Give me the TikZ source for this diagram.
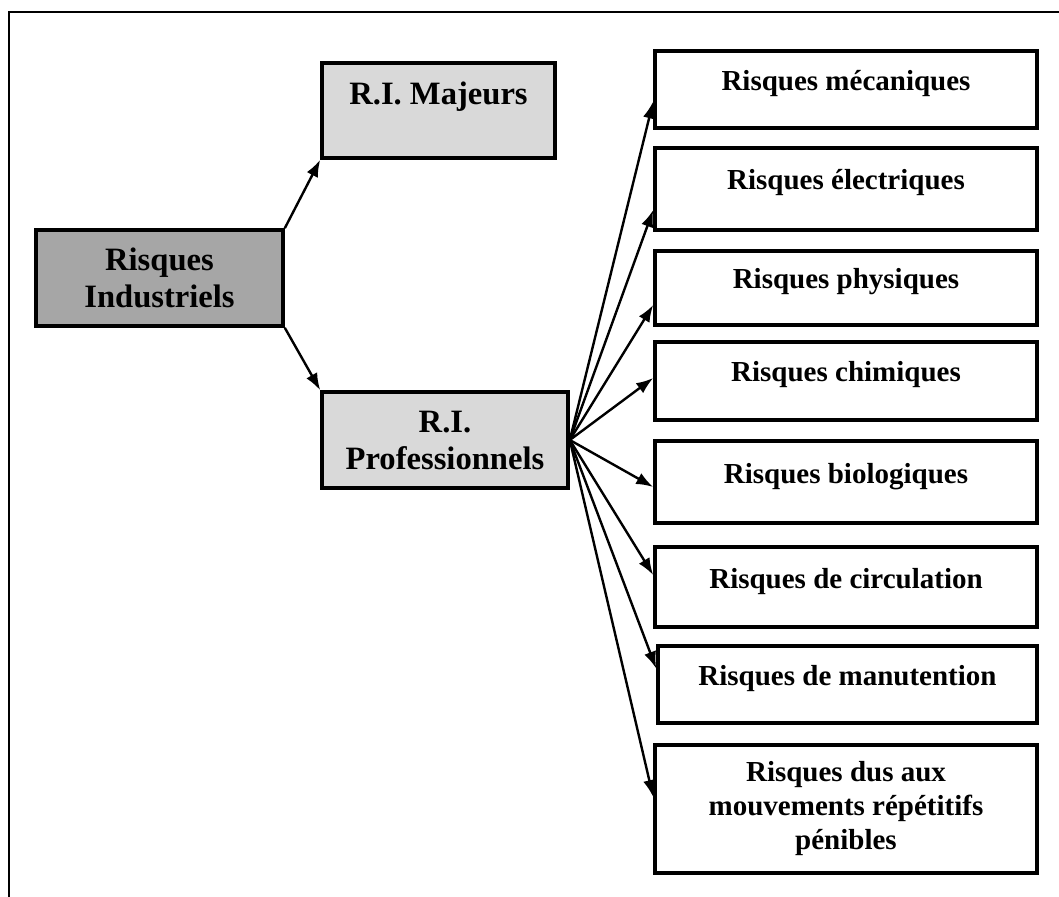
\documentclass[tikz,border=0pt]{standalone}
\usepackage{fontspec}
\setmainfont{Liberation Serif}
\usetikzlibrary{arrows.meta}
\tikzset{
  box/.style={draw,line width=1.8pt,rectangle,align=center,inner sep=2pt,
    font=\bfseries\fontsize{14.5}{17}\selectfont},
  bigbox/.style={box,font=\bfseries\fontsize{16.3}{18.5}\selectfont},
  risk/.style={box,minimum width=191pt,text height=10pt,text depth=9pt},
  link/.style={line width=1.2pt,-{Latex[length=8.5pt,width=6.2pt]}}
}

\begin{document}
\begin{tikzpicture}[x=0.5pt,y=-0.5pt]
  \useasboundingbox (0,0) rectangle (1059,897);
  % frame
  \draw[line width=1pt] (9,897) -- (9,12) -- (1059,12);

  % left part
  \node[bigbox,fill=black!35,minimum width=123.5pt,minimum height=48pt] (ind) at (159.5,278) {Risques\\Industriels};
  \node[bigbox,fill=black!15,minimum width=116.5pt,minimum height=47.5pt,text height=11pt,text depth=16.5pt] (maj) at (438.5,110.5) {R.I. Majeurs};
  \node[bigbox,fill=black!15,minimum width=123pt,minimum height=48pt] (pro) at (445,440) {R.I.\\Professionnels};

  % right column
  \node[risk,minimum height=38.5pt] (mec) at (846,89.5) {Risques mécaniques};
  \node[risk,minimum height=41pt] (elec) at (846,189) {Risques électriques};
  \node[risk,minimum height=37pt] (phys) at (846,288) {Risques physiques};
  \node[risk,minimum height=39pt] (chim) at (846,381) {Risques chimiques};
  \node[risk,minimum height=41pt] (bio) at (846,482) {Risques biologiques};
  \node[risk,minimum height=40pt] (circ) at (846,587) {Risques de circulation};
  \node[risk,minimum width=189.5pt,minimum height=38.5pt] (manu) at (847.5,684.5) {Risques de manutention};
  \node[box,minimum width=191pt,minimum height=64pt] (peni) at (846,809) {Risques dus aux\\mouvements répétitifs\\pénibles};

  \draw[link] (ind.north east) -- (maj.south west);
  \draw[link] (ind.south east) -- (pro.north west);

  \draw[link] (pro.east) -- ([yshift=-6pt]mec.west);
  \draw[link] (pro.east) -- ([yshift=-10.5pt]elec.west);
  \draw[link] (pro.east) -- ([yshift=-8.5pt]phys.west);
  \draw[link] (pro.east) -- ([yshift=1.5pt]chim.west);
  \draw[link] (pro.east) -- ([yshift=-2.5pt]bio.west);
  \draw[link] (pro.east) -- ([yshift=6pt]circ.west);
  \draw[link] (pro.east) -- ([yshift=8pt]manu.west);
  \draw[link] (pro.east) -- ([yshift=6pt]peni.west);
\end{tikzpicture}
\end{document}
